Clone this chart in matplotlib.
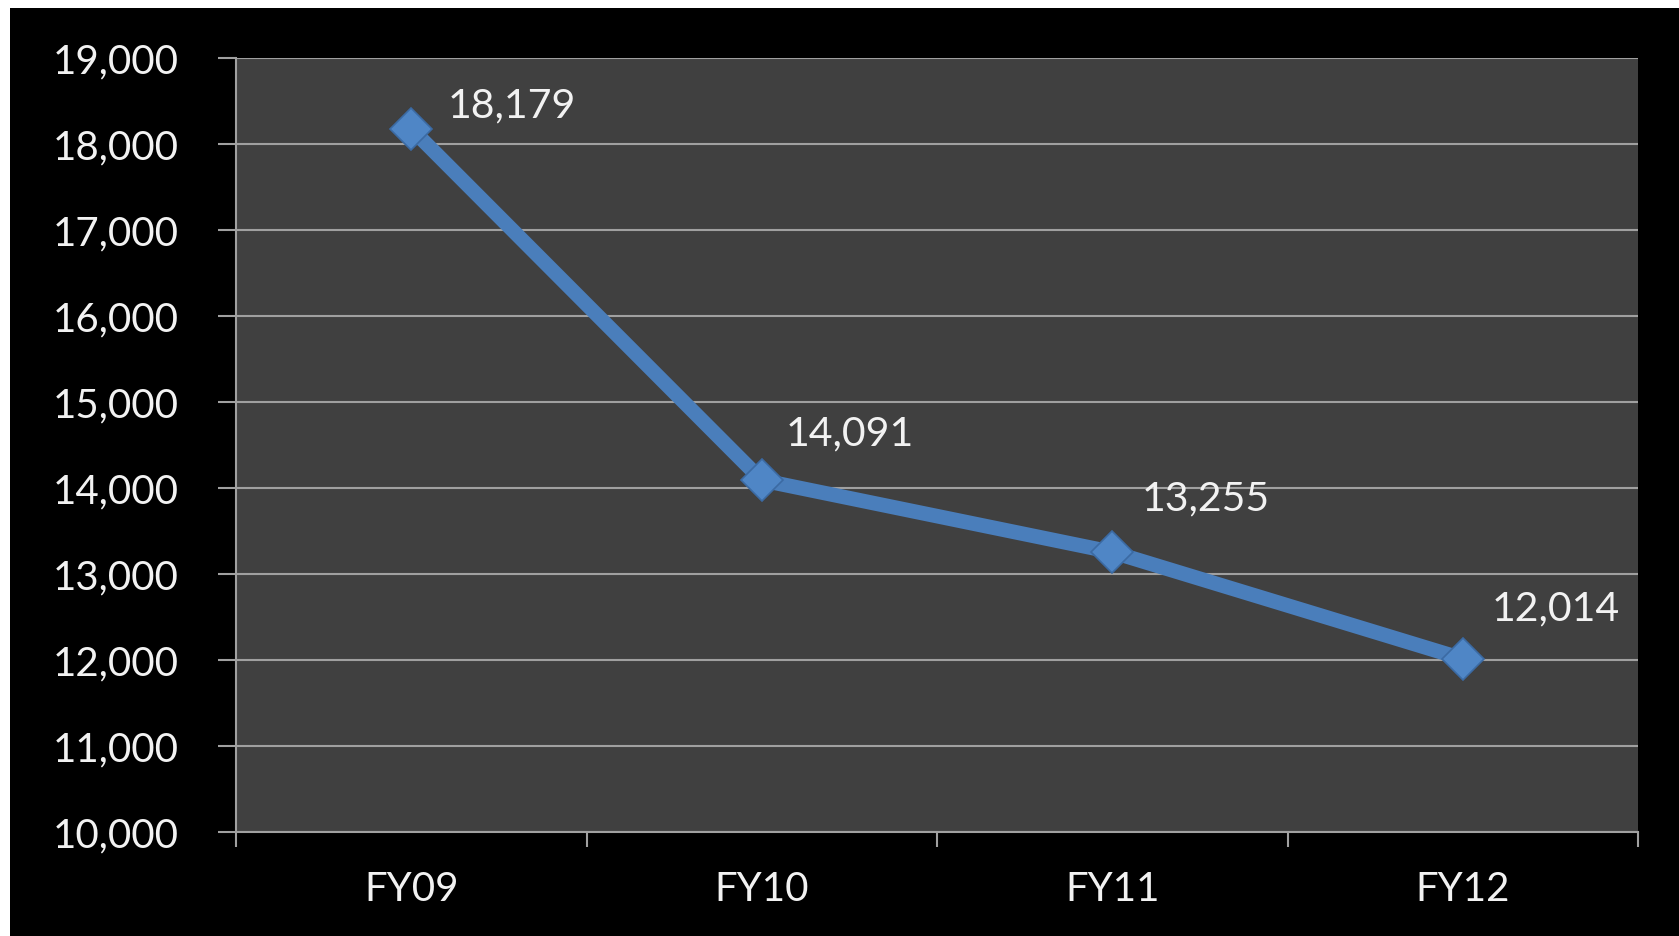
import numpy as np
import matplotlib as mpl
import matplotlib.pyplot as plt
from matplotlib.patches import Rectangle
from matplotlib.ticker import FuncFormatter

mpl.use('Agg')

years = ['FY09', 'FY10', 'FY11', 'FY12']
values = [18179, 14091, 13255, 12014]
# label offsets in points (dx, dy) relative to each marker
label_offsets = [(26, 16), (17, 33), (21, 38), (21, 36)]

plt.rcParams['font.family'] = ['Lato', 'DejaVu Sans']

fig = plt.figure(figsize=(16.79, 9.36), dpi=100, facecolor='white')
# black chart area with thin white strip on the top and left
fig.patches.append(Rectangle((10 / 1679, 0), 1, 1 - 8 / 936, transform=fig.transFigure,
                             facecolor='black', edgecolor='none', zorder=-10))

ax = fig.add_axes([236 / 1679, 1 - 832 / 936, (1638 - 236) / 1679, (832 - 58) / 936])
ax.set_facecolor('#404040')

x = np.arange(len(years))
ax.plot(x, values, color='#4a7ebb', lw=10.5, solid_capstyle='butt', zorder=3)
ax.plot(x, values, ls='none', marker='D', ms=21, color='#4f86c6',
        markeredgecolor='#3b6aa3', markeredgewidth=1.2, zorder=4)

for xi, v, (dx, dy) in zip(x, values, label_offsets):
    ax.annotate(f'{v:,}', (xi, v), xytext=(dx, dy), textcoords='offset points',
                color='#f2f2f2', fontsize=29.5, ha='left', va='center')

ax.set_xlim(-0.5, len(years) - 0.5)
ax.set_ylim(10000, 19000)
ax.set_yticks(np.arange(10000, 19001, 1000))
ax.yaxis.set_major_formatter(FuncFormatter(lambda v, p: f'{int(v):,}'))
ax.grid(axis='y', color='#a0a0a0', lw=1.5)
ax.set_axisbelow(True)

ax.set_xticks(x)
ax.set_xticklabels(years)
ax.set_xticks(np.arange(-0.5, len(years)), minor=True)
ax.tick_params(axis='x', which='major', length=0, pad=28, labelsize=29, labelcolor='#f2f2f2')
ax.tick_params(axis='x', which='minor', length=11, width=1.5, color='#a0a0a0', direction='out')
ax.tick_params(axis='y', length=13, width=1.5, color='#a0a0a0', pad=28,
               labelsize=29, labelcolor='#f2f2f2')

for side in ['top', 'right']:
    ax.spines[side].set_visible(False)
for side in ['left', 'bottom']:
    ax.spines[side].set_color('#a0a0a0')
    ax.spines[side].set_linewidth(1.5)

plt.savefig('out.png', dpi=100, facecolor=fig.get_facecolor())
